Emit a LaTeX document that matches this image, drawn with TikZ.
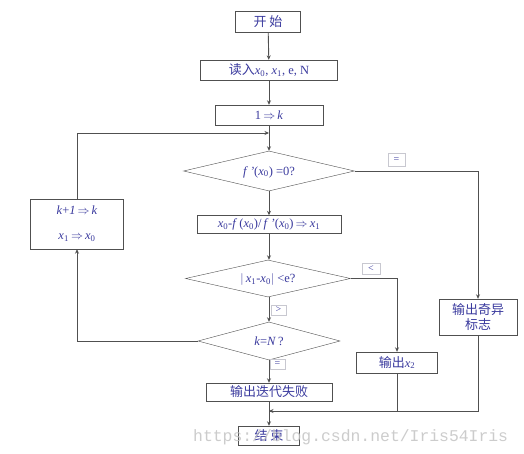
\documentclass[tikz,border=0pt]{standalone}
\usepackage{fontspec}
\setmainfont{Liberation Serif}
\newfontfamily\cjk{Noto Sans CJK SC}
\newfontfamily\wmfont{Liberation Mono}
\usetikzlibrary{shapes.geometric,arrows.meta}
\definecolor{txtblue}{HTML}{3A3A9E}
\definecolor{linegray}{HTML}{505050}
\definecolor{lblgray}{HTML}{C8C8D0}
\definecolor{wmgray}{HTML}{C4C4C4}
\newcommand\iv[1]{\textit{#1}}
\newcommand\xs[1]{\textit{x}\textsubscript{#1}}
\newcommand\imp{\,$\Rightarrow$\,}
\newcommand\zh[1]{{\cjk\fontsize{13}{15}\selectfont #1}}
\newcommand\dtext[1]{\smash{\raisebox{-0.33em}{\makebox[0pt]{#1}}}}
\tikzset{
  box/.style={draw=linegray, fill=white, text=txtblue, inner sep=0pt, font=\fontsize{12.5}{14}\selectfont, align=center},
  dia/.style={draw=linegray, fill=white, text=txtblue, shape=diamond, inner sep=0pt, font=\fontsize{12.5}{14}\selectfont},
  lbl/.style={draw=lblgray, fill=white, text=txtblue, inner sep=0pt, font=\fontsize{10}{11}\selectfont},
  conn/.style={draw=linegray, line width=0.9pt},
  arr/.style={conn, -{Stealth[length=4.5pt,width=4pt]}}
}
\begin{document}
\begin{tikzpicture}[x=1pt,y=-1pt]
\useasboundingbox[fill=white] (0,0) rectangle (524,454);
% nodes
\node[box, minimum width=65pt, minimum height=21pt] (start) at (268,22) {\zh{开\ 始}};
\node[box, minimum width=137pt, minimum height=20pt] (read) at (269,70) {\zh{读入}\xs{0}, \xs{1}, e, N};
\node[box, minimum width=108pt, minimum height=20pt] (init) at (269,115) {1\imp\iv{k}};
\node[dia, minimum width=171pt, minimum height=40pt] (d1) at (269,171) {\dtext{\iv{f}\,\iv{'}(\xs{0}) =0?}};
\node[box, minimum width=144pt, minimum height=18pt] (upd) at (269,224.5) {\xs{0}-\iv{f}\,(\xs{0})/\,\iv{f}\,\iv{'}(\xs{0})\imp\xs{1}};
\node[dia, minimum width=165pt, minimum height=37pt] (d2) at (268,278.5) {\dtext{$|$\,\xs{1}-\xs{0}$|$ \textless e?}};
\node[dia, minimum width=142pt, minimum height=38pt] (d3) at (269,341) {\dtext{\iv{k}=\iv{N}\,?}};
\node[box, minimum width=126pt, minimum height=18pt] (fail) at (269,392) {\zh{输出迭代失败}};
\node[box, minimum width=61pt, minimum height=19pt] (end) at (269,435.5) {\zh{结\ 束}};
\node[box, minimum width=81pt, minimum height=21pt] (outx) at (397,362.5) {\zh{输出}\xs{2}};
\node[box, minimum width=78pt, minimum height=36pt] (sing) at (478,317) {\zh{输出奇异}\\[1.5pt]\zh{标志}};
\node[box, minimum width=93pt, minimum height=50pt] (loop) at (77,224) {\iv{k}+\iv{1}\imp\iv{k}\\[11pt]\xs{1}\imp\xs{0}};
% helper coordinates
\coordinate (j1) at (269,133);
\coordinate (j2) at (269,411);
\coordinate (r1) at (478,171);
\coordinate (r2) at (397,278.5);
\coordinate (l1) at (77,341);
% connectors
\draw[arr] (start) -- (read);
\draw[arr] (read) -- (init);
\draw[arr] (init) -- (d1);
\draw[arr] (loop.north) |- (j1);
\draw[arr] (d1) -- (upd);
\draw[arr] (upd.south) -- (upd.south |- d2.north);
\draw[arr] (d2.south -| d3.north) -- (d3.north);
\draw[arr] (d3) -- (fail);
\draw[arr] (fail) -- (end);
\draw[arr] (d1.east) -- (r1) -- (sing.north);
\draw[arr] (d2.east) -- (r2) -- (outx.north);
\draw[arr] (d3.west) -- (l1) -- (loop.south);
\draw[conn] (sing.south) |- (j2);
\draw[conn] (outx.south) -- (outx.south |- j2);
\draw[arr] (sing.south |- j2) -- (j2);
% labels
\node[lbl, minimum width=17pt, minimum height=13pt] (eq1) at (396.5,160) {=};
\node[lbl, minimum width=18pt, minimum height=11pt] (lt) at (371,268.5) {\textless};
\node[lbl, minimum width=15pt, minimum height=10pt] (gt) at (278.5,310) {\textgreater};
\node[lbl, minimum width=15pt, minimum height=10pt] (eq2) at (277.5,364) {=};
% watermark
\node[anchor=base west, inner sep=0pt, text=wmgray, font=\wmfont\fontsize{16.4}{17}\selectfont, opacity=0.85] (wm) at (193,441) {https://blog.csdn.net/Iris54Iris};
\end{tikzpicture}
\end{document}
